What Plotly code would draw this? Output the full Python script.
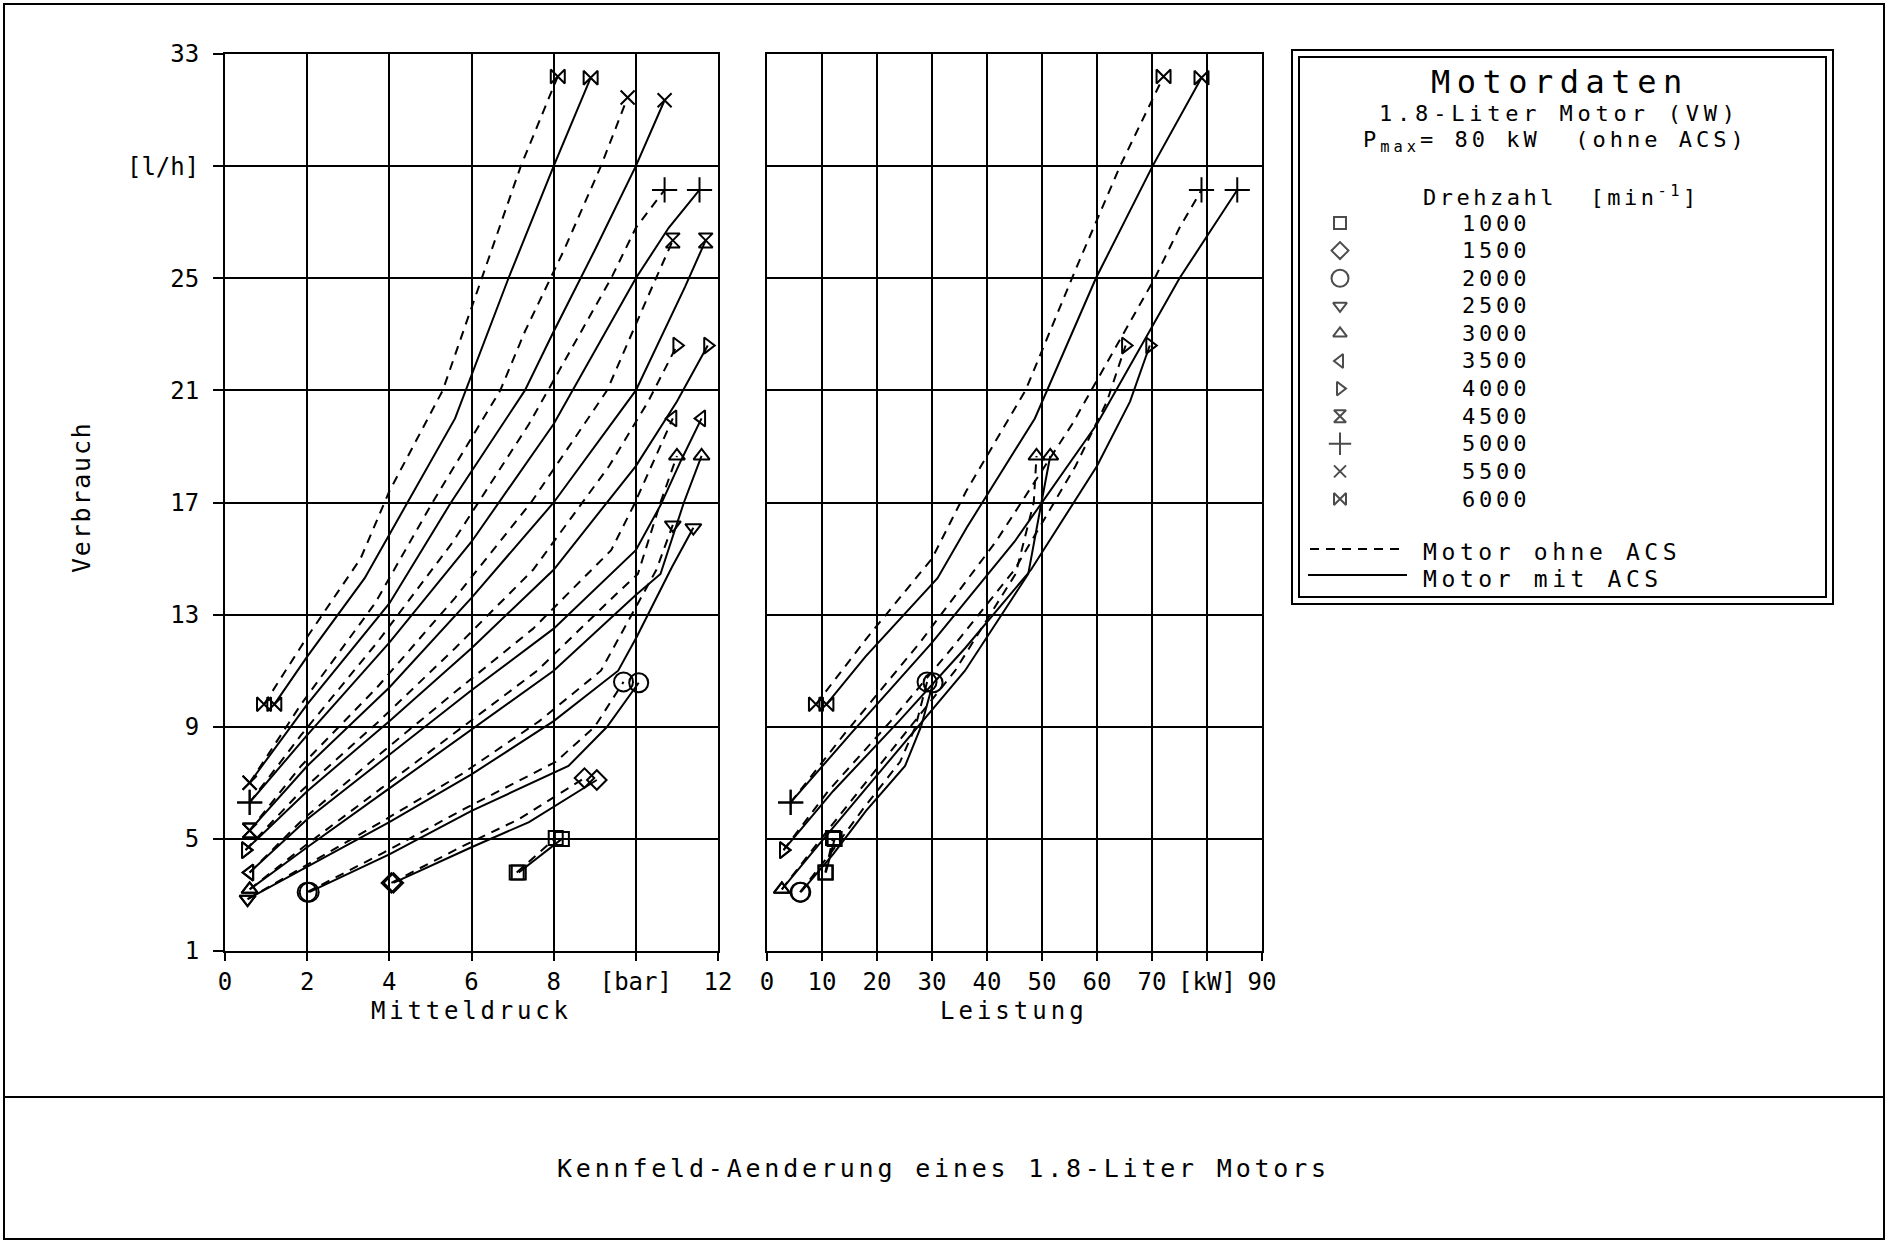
import plotly.graph_objects as go

W, H = 1888, 1244
FONT = "DejaVu Sans Mono"

# ---------------- data ----------------
speeds = [1000, 1500, 2000, 2500, 3000, 3500, 4000, 4500, 5000, 5500, 6000]
speed_symbols = ["square-open", "diamond-open", "circle-open", "triangle-down-open",
                 "triangle-up-open", "triangle-left-open", "triangle-right-open",
                 "hourglass-open", "cross-thin", "x-thin", "bowtie-open"]
speed_sizes = [14, 15, 19, 14, 14, 14, 14, 14, 18, 14, 14]

# Mitteldruck [bar] / Verbrauch [l/h]; "mit" = Motor mit ACS, "ohne" = Motor ohne ACS
pme_mit_1000 = [7.15, 8.2]
b_mit_1000 = [3.8, 5.0]
pme_ohne_1000 = [7.1, 8.05]
b_ohne_1000 = [3.8, 5.03]

pme_mit_1500 = [4.1, 6.0, 7.4, 9.05]
b_mit_1500 = [3.43, 4.7, 5.6, 7.1]
pme_ohne_1500 = [4.05, 5.8, 7.15, 8.75]
b_ohne_1500 = [3.43, 4.75, 5.7, 7.17]

pme_mit_2000 = [2.05, 4.0, 6.0, 8.36, 9.3, 10.07]
b_mit_2000 = [3.1, 4.45, 6.0, 7.6, 9.0, 10.57]
pme_ohne_2000 = [2.0, 3.85, 5.8, 8.05, 9.0, 9.7]
b_ohne_2000 = [3.1, 4.5, 6.05, 7.75, 9.0, 10.6]

pme_mit_2500 = [0.55, 2.0, 4.0, 6.0, 8.0, 9.57, 10.02, 10.88, 11.4]
b_mit_2500 = [2.85, 4.0, 5.6, 7.3, 9.2, 11.0, 12.2, 14.7, 16.1]
pme_ohne_2500 = [0.55, 1.9, 3.8, 5.75, 7.65, 9.15, 9.6, 10.5, 10.9]
b_ohne_2500 = [2.85, 4.0, 5.6, 7.3, 9.2, 11.0, 12.2, 14.6, 16.2]

pme_mit_3000 = [0.6, 2.0, 4.0, 6.0, 8.0, 10.0, 10.6, 11.17, 11.6]
b_mit_3000 = [3.2, 4.7, 6.8, 8.9, 11.0, 13.7, 14.45, 17.0, 18.66]
pme_ohne_3000 = [0.6, 1.9, 3.8, 5.7, 7.6, 9.5, 10.05, 10.6, 11.0]
b_ohne_3000 = [3.2, 4.7, 6.8, 8.9, 11.0, 13.7, 14.45, 17.0, 18.66]

pme_mit_3500 = [0.6, 2.0, 4.0, 6.0, 8.0, 10.0, 10.6, 11.1, 11.6]
b_mit_3500 = [3.8, 5.7, 8.0, 10.3, 12.5, 15.3, 16.9, 18.5, 20.0]
pme_ohne_3500 = [0.6, 1.9, 3.75, 5.65, 7.5, 9.4, 9.95, 10.45, 10.9]
b_ohne_3500 = [3.8, 5.7, 8.0, 10.3, 12.5, 15.3, 16.9, 18.5, 20.0]

pme_mit_4000 = [0.5, 2.0, 4.0, 6.0, 8.0, 10.0, 11.0, 11.75]
b_mit_4000 = [4.6, 6.7, 9.2, 11.8, 14.6, 18.3, 20.6, 22.6]
pme_ohne_4000 = [0.5, 1.85, 3.75, 5.6, 7.5, 9.35, 10.3, 11.0]
b_ohne_4000 = [4.6, 6.7, 9.2, 11.8, 14.6, 18.3, 20.6, 22.6]

pme_mit_4500 = [0.6, 2.0, 4.0, 6.0, 8.0, 10.0, 11.2, 11.7]
b_mit_4500 = [5.3, 7.6, 10.4, 13.6, 17.0, 21.0, 24.7, 26.35]
pme_ohne_4500 = [0.6, 1.85, 3.7, 5.6, 7.45, 9.3, 10.4, 10.9]
b_ohne_4500 = [5.3, 7.6, 10.4, 13.6, 17.0, 21.0, 24.7, 26.35]

pme_mit_5000 = [0.6, 2.0, 4.0, 6.0, 8.0, 10.0, 10.8, 11.55]
b_mit_5000 = [6.3, 8.7, 12.0, 15.6, 19.8, 25.0, 26.8, 28.15]
pme_ohne_5000 = [0.6, 1.85, 3.7, 5.55, 7.4, 9.4, 10.0, 10.7]
b_ohne_5000 = [6.3, 8.7, 12.0, 15.6, 19.8, 25.0, 26.8, 28.15]

pme_mit_5500 = [0.6, 2.0, 4.0, 5.5, 7.3, 8.0, 9.0, 10.0, 10.7]
b_mit_5500 = [7.0, 9.8, 13.4, 17.0, 21.0, 23.1, 26.0, 29.0, 31.35]
pme_ohne_5500 = [0.6, 1.85, 3.65, 5.05, 6.7, 7.3, 8.25, 9.15, 9.8]
b_ohne_5500 = [7.0, 9.8, 13.4, 17.0, 21.0, 23.1, 26.0, 29.0, 31.45]

pme_mit_6000 = [1.2, 2.0, 3.4, 4.1, 5.6, 6.9, 8.0, 8.9]
b_mit_6000 = [9.8, 11.5, 14.3, 16.1, 20.0, 25.0, 29.0, 32.15]
pme_ohne_6000 = [0.95, 2.0, 3.3, 4.0, 5.3, 6.35, 7.2, 8.1]
b_ohne_6000 = [9.8, 12.2, 15.0, 17.4, 21.0, 25.4, 29.0, 32.2]

# Leistung [kW] for the same points (only every second speed is drawn on the right)
kw_mit_1000 = [10.7, 12.3]
kw_ohne_1000 = [10.6, 12.0]
kw_mit_2000 = [6.15, 12.0, 18.0, 25.1, 28.0, 30.2]
kw_ohne_2000 = [6.0, 11.6, 17.4, 24.2, 27.0, 29.1]
kw_mit_3000 = [2.7, 9.0, 18.0, 27.0, 36.0, 45.0, 47.5, 49.9, 51.5]
kw_ohne_3000 = [2.7, 8.6, 17.1, 25.7, 34.2, 42.8, 45.2, 48.5, 49.0]
kw_mit_4000 = [3.0, 12.0, 24.0, 36.0, 48.0, 60.0, 66.0, 69.6]
kw_ohne_4000 = [3.0, 11.1, 22.5, 33.6, 45.0, 56.1, 61.8, 65.2]
kw_mit_5000 = [4.3, 15.0, 30.0, 45.0, 60.0, 75.0, 81.0, 85.5]
kw_ohne_5000 = [4.3, 13.9, 27.8, 41.6, 55.5, 70.5, 75.0, 79.0]
kw_mit_6000 = [10.8, 17.9, 31.0, 36.3, 48.7, 59.8, 70.1, 79.0]
kw_ohne_6000 = [8.9, 18.3, 30.0, 36.2, 47.0, 56.3, 64.2, 72.1]

left_curves = [
    (pme_mit_1000, b_mit_1000, pme_ohne_1000, b_ohne_1000),
    (pme_mit_1500, b_mit_1500, pme_ohne_1500, b_ohne_1500),
    (pme_mit_2000, b_mit_2000, pme_ohne_2000, b_ohne_2000),
    (pme_mit_2500, b_mit_2500, pme_ohne_2500, b_ohne_2500),
    (pme_mit_3000, b_mit_3000, pme_ohne_3000, b_ohne_3000),
    (pme_mit_3500, b_mit_3500, pme_ohne_3500, b_ohne_3500),
    (pme_mit_4000, b_mit_4000, pme_ohne_4000, b_ohne_4000),
    (pme_mit_4500, b_mit_4500, pme_ohne_4500, b_ohne_4500),
    (pme_mit_5000, b_mit_5000, pme_ohne_5000, b_ohne_5000),
    (pme_mit_5500, b_mit_5500, pme_ohne_5500, b_ohne_5500),
    (pme_mit_6000, b_mit_6000, pme_ohne_6000, b_ohne_6000),
]
right_curves = {
    1000: (kw_mit_1000, b_mit_1000, kw_ohne_1000, b_ohne_1000),
    2000: (kw_mit_2000, b_mit_2000, kw_ohne_2000, b_ohne_2000),
    3000: (kw_mit_3000, b_mit_3000, kw_ohne_3000, b_ohne_3000),
    4000: (kw_mit_4000, b_mit_4000, kw_ohne_4000, b_ohne_4000),
    5000: (kw_mit_5000, b_mit_5000, kw_ohne_5000, b_ohne_5000),
    6000: (kw_mit_6000, b_mit_6000, kw_ohne_6000, b_ohne_6000),
}

y_ticks = [1, 5, 9, 13, 17, 21, 25, 29, 33]
y_ticktext = ["1", "5", "9", "13", "17", "21", "25", "[l/h]", "33"]
x1_ticks = [0, 2, 4, 6, 8, 10, 12]
x1_ticktext = ["0", "2", "4", "6", "8", "[bar]", "12"]
x2_ticks = [0, 10, 20, 30, 40, 50, 60, 70, 80, 90]
x2_ticktext = ["0", "10", "20", "30", "40", "50", "60", "70", "[kW]", "90"]

# ---------------- helpers ----------------
def px(x):
    return x / W


def py(y):
    return 1 - y / H


def spaced(s, ls):
    return '<span style="letter-spacing:%.1fpx">%s</span>' % (ls, s)


DASH = "9px,7px"
fig = go.Figure()


def add_curve(xs, ys, dash, sym, size, xa, ya):
    fig.add_trace(go.Scatter(x=xs, y=ys, mode="lines", xaxis=xa, yaxis=ya,
                             line=dict(color="black", width=2, dash=dash),
                             showlegend=False, hoverinfo="skip"))
    fig.add_trace(go.Scatter(x=[xs[0], xs[-1]], y=[ys[0], ys[-1]], mode="markers",
                             xaxis=xa, yaxis=ya,
                             marker=dict(symbol=sym, size=size, color="black",
                                         line=dict(color="black", width=2)),
                             showlegend=False, hoverinfo="skip"))


for i, n in enumerate(speeds):
    xm, ym, xo, yo = left_curves[i]
    add_curve(xo, yo, DASH, speed_symbols[i], speed_sizes[i], "x", "y")
    add_curve(xm, ym, "solid", speed_symbols[i], speed_sizes[i], "x", "y")
    if n in right_curves:
        xm, ym, xo, yo = right_curves[n]
        add_curve(xo, yo, DASH, speed_symbols[i], speed_sizes[i], "x2", "y2")
        add_curve(xm, ym, "solid", speed_symbols[i], speed_sizes[i], "x2", "y2")

# legend symbols on a hidden helper axis (pixel units inside the legend box)
LB = dict(x0=1292, y0=50, x1=1833, y1=604)
row0, rowstep = 173, 27.6
sym_col = 1340
fig.add_trace(go.Scatter(
    x=[sym_col - LB["x0"]] * len(speeds),
    y=[row0 + k * rowstep for k in range(len(speeds))],
    mode="markers", xaxis="x3", yaxis="y3",
    marker=dict(symbol=speed_symbols, size=[s - 2 for s in speed_sizes], color="black",
                line=dict(color="black", width=2)),
    showlegend=False, hoverinfo="skip"))

axis_common = dict(showgrid=True, gridcolor="black", gridwidth=1.8, showline=True,
                   linecolor="black", linewidth=2, mirror=True, zeroline=False,
                   automargin=False,
                   tickfont=dict(family=FONT, size=24, color="black"))

fig.update_layout(
    template="none",
    width=W, height=H, autosize=False,
    margin=dict(l=0, r=0, t=0, b=0, pad=0, autoexpand=False),
    paper_bgcolor="white", plot_bgcolor="white", showlegend=False,
    font=dict(family=FONT, color="black"),
    xaxis=dict(domain=[px(225), px(718)], range=[0, 12], tickvals=x1_ticks,
               ticktext=x1_ticktext, ticks="outside", ticklen=8, tickwidth=2,
               tickcolor="black", anchor="y", **axis_common),
    yaxis=dict(domain=[py(951), py(54)], range=[1, 33], tickvals=y_ticks,
               ticktext=y_ticktext, ticks="outside", ticklen=10, tickwidth=2,
               tickcolor="black", anchor="x", ticklabelstandoff=9, **axis_common),
    xaxis2=dict(domain=[px(767), px(1262)], range=[0, 90], tickvals=x2_ticks,
                ticktext=x2_ticktext, ticks="outside", ticklen=8, tickwidth=2,
                tickcolor="black", anchor="y2", **axis_common),
    yaxis2=dict(domain=[py(951), py(54)], range=[1, 33], tickvals=y_ticks,
                showticklabels=False, ticks="", anchor="x2", **axis_common),
    xaxis3=dict(domain=[px(LB["x0"]), px(LB["x1"])], range=[0, LB["x1"] - LB["x0"]],
                visible=False, anchor="y3", fixedrange=True, automargin=False),
    yaxis3=dict(domain=[py(LB["y1"]), py(LB["y0"])], range=[LB["y1"] - LB["y0"], 0],
                visible=False, anchor="x3", fixedrange=True, automargin=False),
)

shapes = []
line2 = dict(color="black", width=2)
shapes.append(dict(type="rect", xref="paper", yref="paper", x0=px(4), x1=px(1884),
                   y0=py(1239), y1=py(4), line=line2))
shapes.append(dict(type="line", xref="paper", yref="paper", x0=px(4), x1=px(1884),
                   y0=py(1097), y1=py(1097), line=line2))
shapes.append(dict(type="rect", xref="paper", yref="paper", x0=px(LB["x0"]), x1=px(LB["x1"]),
                   y0=py(LB["y1"]), y1=py(LB["y0"]), line=line2))
shapes.append(dict(type="rect", xref="paper", yref="paper", x0=px(LB["x0"] + 7),
                   x1=px(LB["x1"] - 7), y0=py(LB["y1"] - 7), y1=py(LB["y0"] + 7), line=line2))
shapes.append(dict(type="line", xref="paper", yref="paper", x0=px(1310), x1=px(1399),
                   y0=py(549), y1=py(549), line=dict(color="black", width=2, dash=DASH)))
shapes.append(dict(type="line", xref="paper", yref="paper", x0=px(1308), x1=px(1407),
                   y0=py(575), y1=py(575), line=line2))
fig.update_layout(shapes=shapes)


def text(x, y, s, size=24, xanchor="center", angle=0, ls=0.0):
    fig.add_annotation(x=px(x), y=py(y), xref="paper", yref="paper",
                       text=spaced(s, ls) if ls else s,
                       showarrow=False, xanchor=xanchor, yanchor="middle",
                       textangle=angle, font=dict(family=FONT, size=size, color="black"))


text(471, 1011, "Mitteldruck", 24, ls=3.8)
text(1014, 1011, "Leistung", 24, ls=4.0)
text(82, 497, "Verbrauch", 25, angle=-90, ls=1.8)
text(943, 1168, "Kennfeld-Aenderung eines 1.8-Liter Motors", 25, ls=3.8)

text(1560, 82, "Motordaten", 32, ls=6.5)
text(1559, 114, "1.8-Liter Motor (VW)", 22, ls=4.8)
text(1555, 141, "P<sub>max</sub>= 80 kW  (ohne ACS)", 22, ls=4.0)
text(1421, 196, "Drehzahl  [min<sup>-1</sup>]", 22, xanchor="left", ls=3.5)
for k, n in enumerate(speeds):
    text(1460, LB["y0"] + row0 + k * rowstep, str(n), 22, xanchor="left", ls=3.8)
text(1421, 552, "Motor ohne ACS", 23, xanchor="left", ls=4.6)
text(1421, 579, "Motor mit ACS", 23, xanchor="left", ls=4.6)

fig.write_html("out.html")
